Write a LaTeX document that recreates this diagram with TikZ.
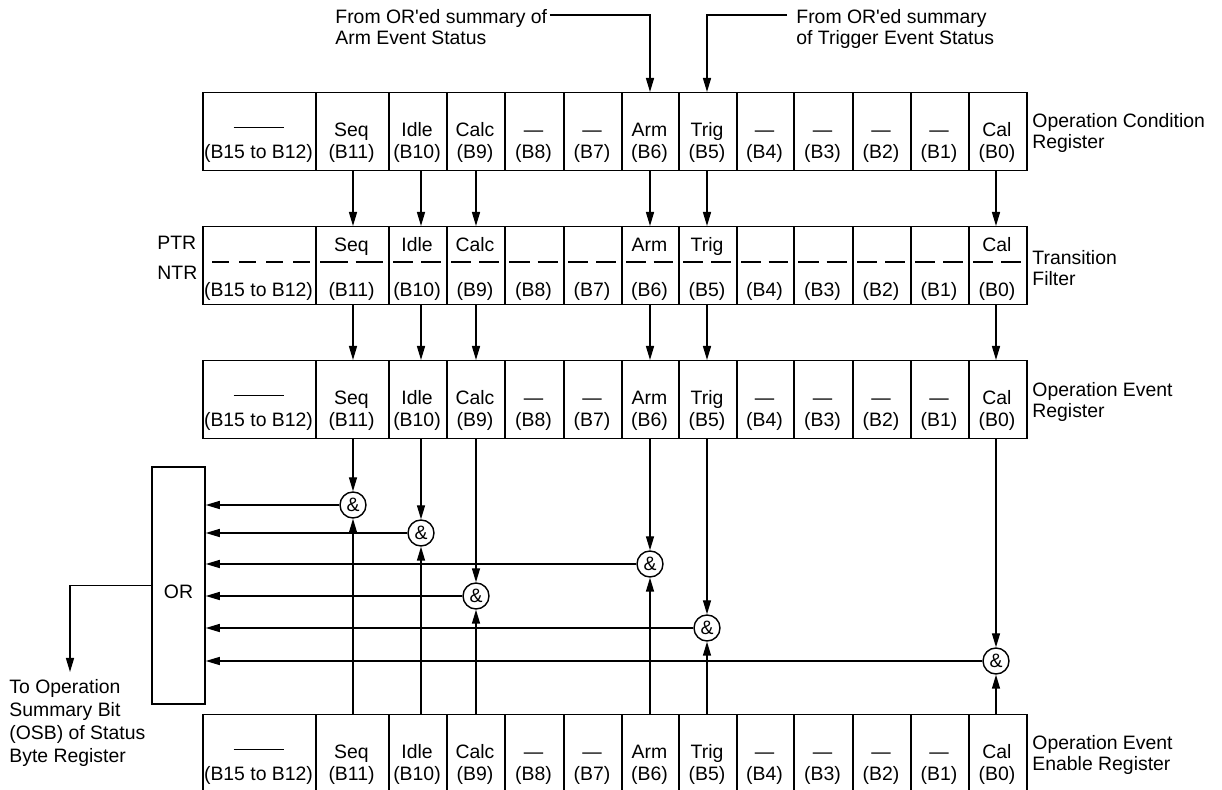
\documentclass[tikz,border=0pt]{standalone}
\usepackage{fontspec}
\setmainfont{Liberation Sans}
\usetikzlibrary{arrows.meta,positioning}

%% cell left edge / right edge / bit / filter name / register text / bit text
\def\bitlist{202/315/15/{}/{\rule[0.45em]{25pt}{0.7pt}}/{(B15 to B12)},
  315/388/11/Seq/Seq/{(B11)}, 388/446/10/Idle/Idle/{(B10)},
  446/504/9/Calc/Calc/{(B9)}, 504/563/8/{}/\textemdash/{(B8)},
  563/621/7/{}/\textemdash/{(B7)}, 621/678/6/Arm/Arm/{(B6)},
  678/736/5/Trig/Trig/{(B5)}, 736/793/4/{}/\textemdash/{(B4)},
  793/852/3/{}/\textemdash/{(B3)}, 852/910/2/{}/\textemdash/{(B2)},
  910/968/1/{}/\textemdash/{(B1)}, 968/1026/0/Cal/Cal/{(B0)}}

\begin{document}
\begin{tikzpicture}[
    x=0.5pt, y=-0.5pt,
    font=\fontsize{9.7}{11}\selectfont,
    cell/.style  = {draw, line width=0.75pt, inner sep=0pt, anchor=north west,
                    minimum height=39pt},
    txt/.style   = {inner sep=0pt, anchor=base},
    side/.style  = {inner sep=0pt, anchor=west, align=left,
                    font=\fontsize{9.7}{10.5}\selectfont},
    gate/.style  = {draw, circle, line width=0.7pt, fill=white,
                    minimum size=13pt, inner sep=0pt},
    wire/.style  = {line width=0.7pt},
    arrow/.style = {-{Triangle[length=7pt,width=4pt]}, line width=0.7pt}
  ]
    \useasboundingbox (0,0) rectangle (1222,790);

    %% ---- Condition, Event and Enable registers ----
    \foreach \rg/\ty in {c/92, e/360, n/714} {
      \foreach \xa/\xb/\bt/\nam/\ulab/\blab in \bitlist {
        \pgfmathsetmacro\cw{(\xb-\xa)*0.5}
        \node[cell, minimum width=\cw pt] (\rg\bt) at (\xa,\ty) {};
        \node[txt] (\rg\bt u) at ({(\xa+\xb)/2},\ty+45) {\ulab};
        \node[txt] (\rg\bt b) at ({(\xa+\xb)/2},\ty+67) {\blab};
      }
    }

    %% ---- Transition filter (PTR over NTR) ----
    \foreach \xa/\xb/\bt/\nam/\ulab/\blab in \bitlist {
      \pgfmathsetmacro\cw{(\xb-\xa)*0.5}
      \node[cell, minimum width=\cw pt] (t\bt) at (\xa,226) {};
      \node[txt] (t\bt u) at ({(\xa+\xb)/2},252) {\nam};
      \node[txt] (t\bt b) at ({(\xa+\xb)/2},297) {\blab};
      \ifnum\bt=15
        \draw[wire, dash pattern=on 8.5pt off 5pt] (\xa+10,262) -- (\xb-5,262);
      \else
        \pgfmathsetmacro\dl{((\xb-\xa-10)*0.5-4)/2}
        \draw[wire, dash pattern=on \dl pt off 4pt] (\xa+5,262) -- (\xb-5,262);
      \fi
    }
    \node[txt, anchor=base west] (ptr) at (157,250) {PTR};
    \node[txt, anchor=base west] (ntr) at (157,280) {NTR};

    %% ---- Register names on the right ----
    \node[side] (clab) at (1032,133) {Operation Condition\\Register};
    \node[side] (tlab) at (1032,268) {Transition\\Filter};
    \node[side] (elab) at (1032,402) {Operation Event\\Register};
    \node[side] (nlab) at (1032,755) {Operation Event\\Enable Register};

    %% ---- Summary inputs at the top ----
    \node[side, anchor=north west, inner sep=1pt] (armsrc) at (333,7)
      {From OR\textquotesingle ed summary of\\Arm Event Status};
    \node[side, anchor=north west, inner sep=1pt] (trigsrc) at (794,7)
      {From OR\textquotesingle ed summary\\of Trigger Event Status};

    %% ---- AND gates and OR box ----
    \node[gate] (g11) at (353,505) {\&};
    \node[gate] (g10) at (421,533) {\&};
    \node[gate] (g6)  at (650,564) {\&};
    \node[gate] (g9)  at (476,596) {\&};
    \node[gate] (g5)  at (707,628) {\&};
    \node[gate] (g0)  at (996,661) {\&};
    \node[draw, line width=0.75pt, inner sep=0pt, minimum width=26.5pt,
          minimum height=118.5pt] (orbox) at (178.5,585.5) {};
    \node (ortxt) at (178.5,592) {OR};

    \node[side, anchor=north west, font=\fontsize{9.7}{11.5}\selectfont] (osb)
      at (9,679) {To Operation\\Summary Bit\\(OSB) of Status\\Byte Register};
    \coordinate (osbtip) at (70,672);

    %% ---- Connectors ----
    \draw[arrow] ([yshift=-4pt]armsrc.north east) -| (g6 |- c6.north);
    \draw[arrow] ([xshift=-3.5pt,yshift=-4pt]trigsrc.north west) -| (g5 |- c5.north);
    \foreach \bt in {11,10,9,6,5,0} {
      \draw[arrow] (c\bt.south -| g\bt) -- (t\bt.north -| g\bt);
      \draw[arrow] (t\bt.south -| g\bt) -- (e\bt.north -| g\bt);
      \draw[arrow] (e\bt.south -| g\bt) -- (g\bt.north);
      \draw[arrow] (n\bt.north -| g\bt) -- (g\bt.south);
      \draw[arrow] (g\bt.west) -- (g\bt.west -| orbox.east);
    }
    \draw[arrow] (orbox.west) -| (osbtip);

  \end{tikzpicture}
\end{document}
